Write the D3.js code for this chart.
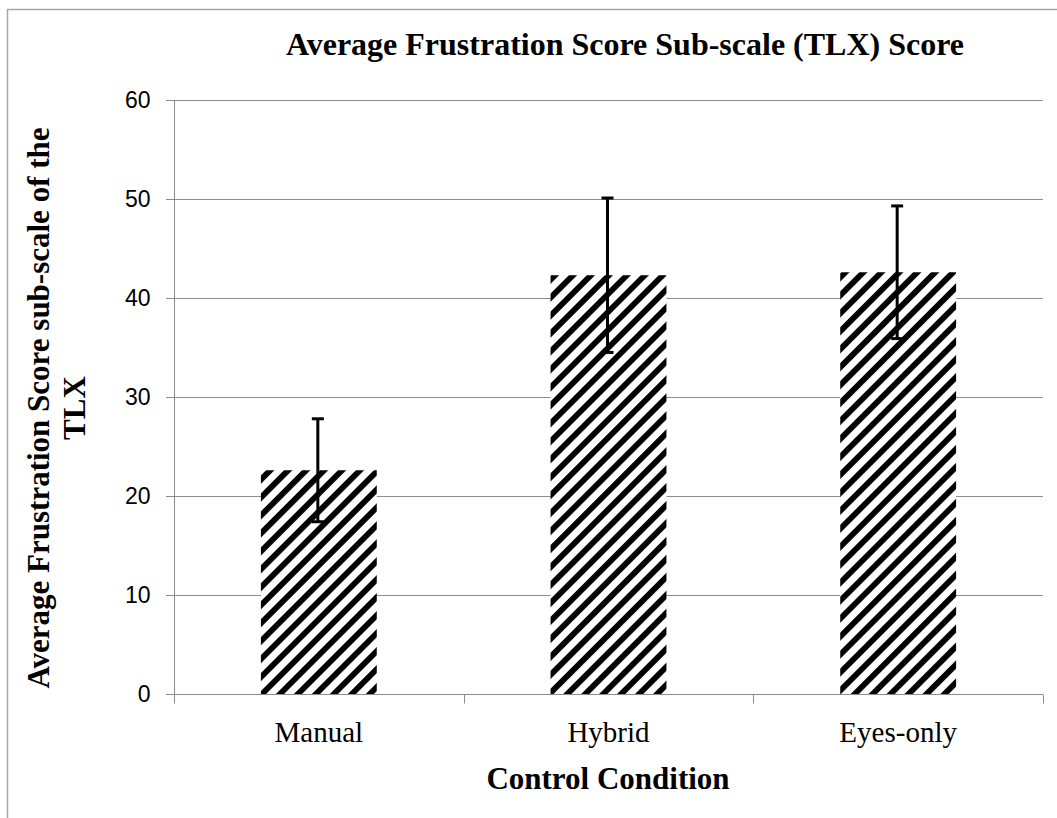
<!DOCTYPE html>
<html>
<head>
<meta charset="utf-8">
<script src="https://cdn.jsdelivr.net/npm/d3@7"></script>
<style>
  html, body { margin: 0; padding: 0; background: #fff; }
  svg { display: block; }
</style>
</head>
<body>
<div id="chart"></div>
<script>
// data
const categories = ["Manual", "Hybrid", "Eyes-only"];
const means = [22.6, 42.3, 42.6];
const errors = [5.2, 7.8, 6.7];
const yTicks = [0, 10, 20, 30, 40, 50, 60];

const W = 1057, Ht = 818;
const m = { t: 100, r: 14, b: 124, l: 174 };
const grey = "#8c8c8c";
const serif = "'Liberation Serif', 'Times New Roman', serif";

const svg = d3.select("#chart").append("svg").attr("width", W).attr("height", Ht);

// hatch pattern ("/" stripes)
const defs = svg.append("defs");
const pat = defs.append("pattern")
  .attr("id", "hatch")
  .attr("patternUnits", "userSpaceOnUse")
  .attr("width", 12.7).attr("height", 12.7)
  .attr("patternTransform", "rotate(45)");
pat.append("rect").attr("width", 12.7).attr("height", 12.7).attr("fill", "#fff");
pat.append("rect").attr("width", 5.8).attr("height", 12.7).attr("fill", "#000");

// chart frame
svg.append("rect")
  .attr("x", 7.5).attr("y", 9.5).attr("width", W + 20).attr("height", Ht + 20)
  .attr("fill", "none").attr("stroke", "#a6a6a6").attr("stroke-width", 1.5);

const x = d3.scaleBand().domain(categories).range([m.l, W - m.r]).paddingInner(0).paddingOuter(0);
const y = d3.scaleLinear().domain([0, 60]).range([Ht - m.b, m.t]);

// gridlines
svg.append("g")
  .selectAll("line").data(yTicks.filter(d => d > 0)).join("line")
  .attr("x1", m.l - 8).attr("x2", W - m.r)
  .attr("y1", d => y(d) + 0.5).attr("y2", d => y(d) + 0.5)
  .attr("stroke", grey).attr("stroke-width", 1);

// y axis
const yAxis = svg.append("g").attr("transform", `translate(${m.l + 0.5},0)`)
  .call(d3.axisLeft(y).tickValues(yTicks).tickSize(8).tickPadding(16));
yAxis.select(".domain").attr("stroke", grey).attr("d", `M0,${y(60)}V${y(0)}`);
yAxis.selectAll(".tick line").attr("stroke", grey);
yAxis.selectAll(".tick text")
  .style("font-family", "'Liberation Sans', Arial, sans-serif")
  .style("font-size", "23px").attr("fill", "#000");

// bars
const bw = x.bandwidth() * 0.4;
svg.append("g").selectAll("rect").data(categories).join("rect")
  .attr("x", d => x(d) + (x.bandwidth() - bw) / 2)
  .attr("y", (d, i) => y(means[i]))
  .attr("width", bw)
  .attr("height", (d, i) => y(0) - y(means[i]))
  .attr("fill", "url(#hatch)");

// x axis
const xAxis = svg.append("g").attr("transform", `translate(0,${y(0) + 0.5})`)
  .call(d3.axisBottom(x).tickSize(0).tickPadding(27));
xAxis.select(".domain").attr("stroke", grey).attr("d", `M${m.l - 8},0H${W - m.r}`);
xAxis.selectAll(".tick text")
  .style("font-family", serif)
  .style("font-size", "29px").attr("fill", "#000");
// boundary ticks between categories
const bounds = categories.map(d => x(d)).concat([x(categories[2]) + x.bandwidth()]);
xAxis.append("g").selectAll("line").data(bounds).join("line")
  .attr("x1", d => Math.round(d) + 0.5).attr("x2", d => Math.round(d) + 0.5)
  .attr("y1", 0).attr("y2", 9).attr("stroke", grey);

// error bars
const eb = svg.append("g").attr("stroke", "#000").attr("stroke-width", 3);
categories.forEach((c, i) => {
  const cx = x(c) + x.bandwidth() / 2 - 1;
  eb.append("line").attr("x1", cx).attr("x2", cx)
    .attr("y1", y(means[i] + errors[i])).attr("y2", y(means[i] - errors[i]));
  [means[i] + errors[i], means[i] - errors[i]].forEach(v => {
    eb.append("line").attr("x1", cx - 6).attr("x2", cx + 6)
      .attr("y1", y(v)).attr("y2", y(v));
  });
});

// title
svg.append("text")
  .attr("x", 625).attr("y", 55)
  .attr("text-anchor", "middle")
  .style("font-family", serif)
  .style("font-weight", "bold").style("font-size", "32px")
  .text("Average Frustration Score Sub-scale (TLX) Score");

// x axis title
svg.append("text")
  .attr("x", 608).attr("y", 789)
  .attr("text-anchor", "middle")
  .style("font-family", serif)
  .style("font-weight", "bold").style("font-size", "31px")
  .text("Control Condition");

// y axis title, two lines
const yt = svg.append("text")
  .attr("transform", "translate(49,408) rotate(-90)")
  .attr("text-anchor", "middle")
  .style("font-family", serif)
  .style("font-weight", "bold").style("font-size", "31px");
yt.append("tspan").attr("x", 0).attr("dy", 0).text("Average Frustration Score sub-scale of the");
yt.append("tspan").attr("x", 0).attr("dy", 36).text("TLX");
</script>
</body>
</html>
